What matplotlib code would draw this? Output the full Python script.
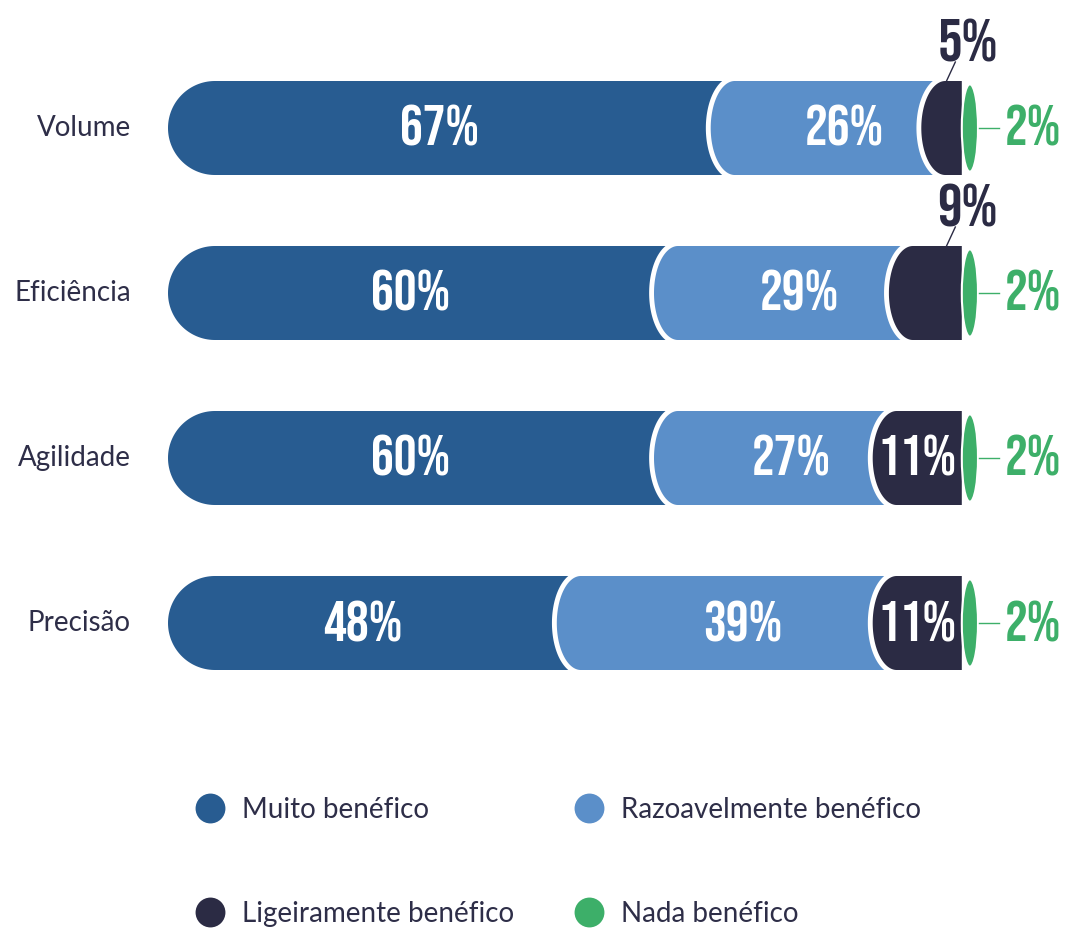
import numpy as np
import matplotlib.pyplot as plt
from matplotlib.patches import Polygon, Ellipse
from matplotlib.lines import Line2D

# dados (%)
categorias = ['Volume', 'Eficiência', 'Agilidade', 'Precisão']
muito = [67, 60, 60, 48]
razoavel = [26, 29, 27, 39]
ligeiro = [5, 9, 11, 11]
nada = [2, 2, 2, 2]

series = ['Muito benéfico', 'Razoavelmente benéfico', 'Ligeiramente benéfico', 'Nada benéfico']
cores = ['#285C91', '#5B8FC9', '#2B2B44', '#3DAF69']
cor_texto = '#2E2E48'

W, H = 1073, 931
fig = plt.figure(figsize=(W / 100, H / 100), dpi=100)
ax = fig.add_axes([0, 0, 1, 1])

# escala: px por ponto percentual e px entre linhas
PX_X, PX_Y = 8.1, 165
X0, Y0 = 168, 128
ax.set_xlim(-X0 / PX_X, (W - X0) / PX_X)
ax.set_ylim((H - Y0) / PX_Y, -Y0 / PX_Y)
ax.axis('off')

h = 47 / PX_Y          # meia altura da barra
cap_ini = 47 / PX_X    # ponta do primeiro segmento (semicirculo)
cap = 24 / PX_X        # ponta dos segmentos seguintes
dy_txt = -2 / PX_Y     # leve ajuste vertical dos rotulos
fonte_pct = dict(family=['Bebas Neue', 'DejaVu Sans'], fontsize=41)
fonte_txt = ['Lato', 'DejaVu Sans']


def arco(x0, yc, d):
    t = np.linspace(0, np.pi, 80)
    return x0 + d - d * np.sin(t), yc + h * np.cos(t)


def segmento(x0, x1, yc, d):
    ax_, ay_ = arco(x0, yc, d)
    pts = [(x1, yc - h), (x1, yc + h)] + list(zip(ax_, ay_))
    return np.array(pts)


for i, cat in enumerate(categorias):
    vals = [muito[i], razoavel[i], ligeiro[i]]
    inicio = 0
    for j, v in enumerate(vals):
        fim = inicio + v
        d = cap_ini if j == 0 else cap
        direita = fim + cap + 0.5 if j < 2 else fim
        if j > 0:
            lx, ly = arco(inicio, i, d)
            ax.plot(lx, ly, color='white', lw=7, solid_capstyle='butt', zorder=2 + 2 * j)
        ax.add_patch(Polygon(segmento(inicio, direita, i, d), closed=True,
                             fc=cores[j], ec='none', zorder=3 + 2 * j))

        meio = (inicio + fim) / 2
        if j == 1:
            ax.text(meio + cap + 0.5, i + dy_txt, f'{v}%', color='white', ha='center',
                    va='center', zorder=10, **fonte_pct)
        elif j == 0:
            ax.text(meio, i + dy_txt, f'{v}%', color='white', ha='center', va='center',
                    zorder=10, **fonte_pct)
        elif v >= 10:
            ax.text(meio, i + dy_txt, f'{v}%', color='white', ha='center', va='center',
                    zorder=10, **fonte_pct)
        else:
            # rotulo acima da barra com linha de chamada
            ax.plot([fim - 2.0, fim - 0.8], [i - 45 / PX_Y, i - 66 / PX_Y],
                    color=cores[2], lw=1, zorder=10)
            ax.text(fim + 0.7, i - 66 / PX_Y, f'{v}%', color=cores[2], ha='center',
                    va='bottom', zorder=10, family=fonte_pct['family'], fontsize=44)
        inicio = fim

    # fatia verde em forma de lente
    ax.add_patch(Ellipse((inicio + nada[i] / 2, i), width=nada[i], height=2 * h * 0.93,
                         fc=cores[3], ec='white', lw=1.5, zorder=9))
    ax.plot([inicio + nada[i] + 0.1, inicio + nada[i] + 2.6], [i, i],
            color=cores[3], lw=1, zorder=10)
    ax.text(inicio + nada[i] + 3.3, i + dy_txt, f'{nada[i]}%', color=cores[3], ha='left',
            va='center', zorder=10, **fonte_pct)

    ax.text(-37 / PX_X, i, cat, color=cor_texto, ha='right', va='center',
            family=fonte_txt, fontsize=20)

# legenda em duas colunas
ordem = [0, 2, 1, 3]
handles = [Line2D([], [], ls='none', marker='o', markersize=21.5,
                  markerfacecolor=cores[k], markeredgecolor='none') for k in ordem]
leg = fig.legend(handles, [series[k] for k in ordem], ncol=2, loc='upper left',
                 bbox_to_anchor=(196 / W, 1 - 797 / H), frameon=False,
                 prop={'family': fonte_txt, 'size': 20}, handlelength=1.0,
                 handletextpad=0.65, columnspacing=2.2, labelspacing=2.8,
                 borderpad=0, borderaxespad=0)
for t in leg.get_texts():
    t.set_color(cor_texto)

plt.savefig('out.png', dpi=100)
